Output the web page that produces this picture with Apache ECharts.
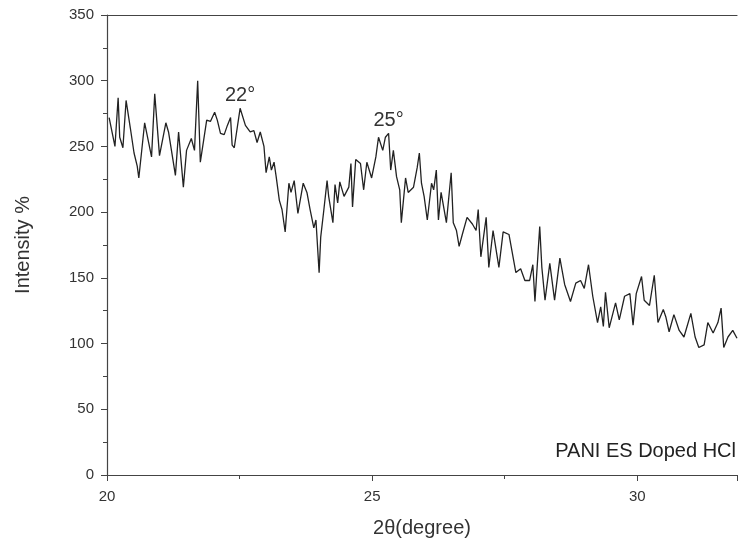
<!DOCTYPE html>
<html>
<head>
<meta charset="utf-8">
<script src="https://cdn.jsdelivr.net/npm/echarts@6/dist/echarts.min.js"></script>
<style>html,body{margin:0;padding:0;background:#fff}#c{width:740px;height:548px}</style>
</head>
<body>
<div id="c"></div>
<script>
var twoTheta = [20.04,20.15,20.21,20.24,20.30,20.36,20.44,20.51,20.57,20.60,20.71,20.84,20.90,20.99,21.11,21.16,21.29,21.35,21.44,21.50,21.59,21.65,21.71,21.76,21.88,21.95,
22.03,22.08,22.14,22.21,22.27,22.33,22.36,22.40,22.51,22.61,22.70,22.77,22.83,22.89,22.96,23.00,23.06,23.10,23.15,23.19,23.25,23.30,23.36,23.43,23.47,23.53,23.60,23.70,23.77,23.83,23.90,23.94,
24.00,24.03,24.09,24.15,24.18,24.26,24.30,24.35,24.39,24.47,24.56,24.60,24.63,24.69,24.78,24.84,24.90,24.99,25.07,25.12,25.20,25.25,25.31,25.35,25.40,25.46,25.52,25.55,25.63,25.68,25.78,25.85,
25.89,25.93,25.98,26.04,26.12,26.16,26.21,26.25,26.30,26.40,26.49,26.53,26.59,26.64,26.70,26.79,26.89,26.96,27.00,27.05,27.15,27.20,27.28,27.39,27.47,27.58,27.71,27.80,
27.88,27.97,28.03,28.07,28.16,28.20,28.26,28.35,28.44,28.54,28.63,28.74,28.84,28.93,29.00,29.08,29.16,29.25,29.31,29.36,29.40,29.47,29.59,29.66,29.76,
29.86,29.92,29.98,30.08,30.13,30.23,30.32,30.39,30.49,30.54,30.60,30.69,30.79,30.88,31.01,31.09,31.16,31.26,31.33,31.43,31.52,31.58,31.63,31.71,31.80,31.88];
var intensity = [272,250,287,257,249,285,264,245,235,226,268,242,290,243,268,261,228,261,219,247,256,247,300,238,270,269,
276,270,260,259,266,272,251,249,279,266,261,262,253,261,250,230,242,232,238,227,209,202,185,222,215,224,199,222,215,202,188,194,
154,181,202,224,212,192,221,207,223,212,219,237,204,240,237,217,238,226,242,257,247,257,260,232,247,227,217,192,226,215,219,234,
245,222,212,194,222,217,232,194,215,192,230,192,186,174,183,196,191,186,202,166,196,158,186,158,185,183,154,157,
148,148,160,132,189,158,133,161,133,165,145,132,146,148,142,160,136,116,128,113,139,112,131,118,136,
138,114,138,151,133,129,152,116,126,120,109,122,110,105,123,105,97,99,116,108,116,127,97,105,110,104];
var xTickLabels = [20, 25, 30];
var yTickLabels = [0, 50, 100, 150, 200, 250, 300, 350];
var peakNotes = [{x: 22.51, y: 279, text: '22°'}, {x: 25.31, y: 260, text: '25°'}];
var sampleName = 'PANI ES Doped HCl';

var pts = twoTheta.map(function (x, i) { return [x, intensity[i]]; });
var font = 'Liberation Sans, Arial, sans-serif';
var chart = echarts.init(document.getElementById('c'));
chart.setOption({
  animation: false,
  backgroundColor: '#fff',
  grid: {left: 107, right: 0, top: 15, bottom: 73, containLabel: false},
  xAxis: [{
    type: 'value', min: 20, max: 31.88, interval: 5,
    name: '2θ(degree)', nameLocation: 'middle', nameGap: 43,
    nameTextStyle: {fontFamily: font, fontSize: 20, color: '#333'},
    axisLine: {lineStyle: {color: '#444', width: 1.2}},
    axisTick: {show: true, inside: false, length: 6, lineStyle: {color: '#444'}},
    minorTick: {show: true, splitNumber: 2, length: 4, lineStyle: {color: '#444'}},
    axisLabel: {margin: 14, fontFamily: font, fontSize: 15, color: '#333',
      formatter: function (v) { return xTickLabels.indexOf(v) >= 0 ? String(v) : ''; }},
    splitLine: {show: false}
  }, {
    type: 'value', position: 'top', min: 20, max: 31.88,
    axisLine: {show: true, onZero: false, lineStyle: {color: '#444', width: 1.2}},
    axisTick: {show: false}, axisLabel: {show: false}, splitLine: {show: false}
  }],
  yAxis: {
    type: 'value', min: 0, max: 350, interval: 50,
    name: 'Intensity %', nameLocation: 'middle', nameGap: 74, nameRotate: 90,
    nameTextStyle: {fontFamily: font, fontSize: 20, color: '#333'},
    axisLine: {show: true, lineStyle: {color: '#444', width: 1.2}},
    axisTick: {show: true, inside: false, length: 6, lineStyle: {color: '#444'}},
    minorTick: {show: true, splitNumber: 2, length: 4, lineStyle: {color: '#444'}},
    axisLabel: {margin: 13, fontFamily: font, fontSize: 15, color: '#333',
      formatter: function (v) { return yTickLabels.indexOf(v) >= 0 ? String(v) : ''; }},
    splitLine: {show: false}
  },
  series: [{
    type: 'line', data: pts, showSymbol: false, symbol: 'none', smooth: false,
    lineStyle: {color: '#222', width: 1.3}, clip: true,
    markPoint: {
      symbol: 'circle', symbolSize: 0, silent: true,
      label: {show: true, position: 'top', distance: 3, fontFamily: font, fontSize: 20, color: '#333',
        formatter: function (p) { return p.name; }},
      data: peakNotes.map(function (n) { return {name: n.text, coord: [n.x, n.y]}; })
    }
  }],
  graphic: [{
    type: 'text', right: 4, top: 441,
    style: {text: sampleName, font: '20px ' + font, fill: '#222'}
  }]
});
</script>
</body>
</html>
